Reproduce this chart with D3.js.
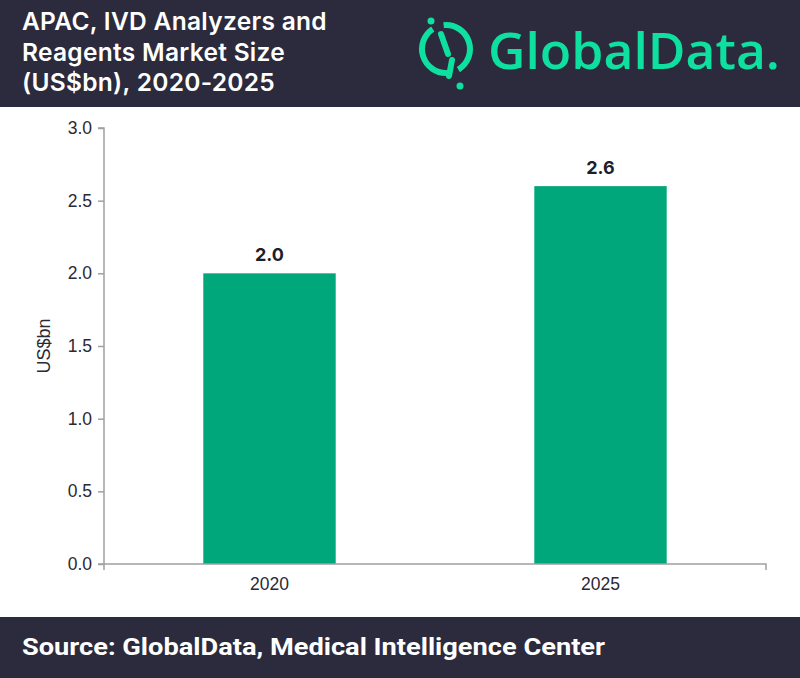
<!DOCTYPE html>
<html><head><meta charset="utf-8">
<script src="https://cdn.jsdelivr.net/npm/d3@7"></script>
<style>body{margin:0;background:#fff}svg{display:block}</style>
</head><body>
<script>
const categories = ["2020", "2025"];
const values = [2.0, 2.6];
const valueLabels = ["2.0", "2.6"];
const yTicks = [0, 0.5, 1.0, 1.5, 2.0, 2.5, 3.0];
const titleLines = ["APAC, IVD Analyzers and", "Reagents Market Size", "(US$bn), 2020-2025"];
const sourceText = "Source: GlobalData, Medical Intelligence Center";
const yAxisTitle = "US$bn";

const W = 800, H = 678;
const svg = d3.select("body").append("svg").attr("width", W).attr("height", H);
const dark = "#2c2a3d", green = "#00a77a", logoGreen = "#0ee0a0";

// header
svg.append("rect").attr("x",0).attr("y",0).attr("width",W).attr("height",107).attr("fill",dark);
svg.append("g").selectAll("text").data(titleLines).join("text")
  .attr("x",22).attr("y",(d,i)=>30+i*30.5)
  .attr("fill","#fff").attr("font-family","Inter, 'Noto Sans', sans-serif")
  .attr("font-weight",600).attr("font-size",24.5).attr("letter-spacing",0.3).text(d=>d);

// logo
const logo = svg.append("g");
const cx=446, cy=49, r=24;
const arc = d3.arc().innerRadius(r-3).outerRadius(r+3);
logo.append("path").attr("transform",`translate(${cx},${cy})`)
  .attr("d", arc({startAngle: -0.1, endAngle: 2.6})).attr("fill",logoGreen);
logo.append("path").attr("transform",`translate(${cx},${cy})`)
  .attr("d", arc({startAngle: 3.1, endAngle: 5.7})).attr("fill",logoGreen);
logo.append("line").attr("x1",441).attr("y1",34).attr("x2",448).attr("y2",54)
  .attr("stroke",logoGreen).attr("stroke-width",6).attr("stroke-linecap","round");
logo.append("line").attr("x1",452).attr("y1",60).attr("x2",449).attr("y2",76)
  .attr("stroke",logoGreen).attr("stroke-width",6).attr("stroke-linecap","round");
logo.append("circle").attr("cx",431).attr("cy",21).attr("r",3.5).attr("fill",logoGreen);
logo.append("circle").attr("cx",460).attr("cy",86).attr("r",3.5).attr("fill",logoGreen);
logo.append("text").attr("x",488).attr("y",69).attr("fill",logoGreen)
  .attr("font-family","'Open Sans', Inter, sans-serif").attr("font-weight",600)
  .attr("font-size",50).attr("textLength",292).attr("lengthAdjust","spacingAndGlyphs")
  .text("GlobalData.");

// chart
const x0 = 104, x1 = 766, yTop = 128, yBot = 564;
const x = d3.scaleBand().domain(categories).range([x0,x1]).paddingInner(0.6).paddingOuter(0.3);
const y = d3.scaleLinear().domain([0,3]).range([yBot,yTop]);

svg.append("g").selectAll("rect").data(values).join("rect")
  .attr("x",(d,i)=>x(categories[i])).attr("width",x.bandwidth())
  .attr("y",d=>y(d)).attr("height",d=>y(0)-y(d)).attr("fill",green);

svg.append("g").selectAll("text").data(values).join("text")
  .attr("x",(d,i)=>x(categories[i])+x.bandwidth()/2).attr("y",d=>y(d)-12)
  .attr("text-anchor","middle").attr("font-family","Inter, 'Noto Sans', sans-serif")
  .attr("font-weight",700).attr("font-size",18).attr("fill","#1e1d2b")
  .text((d,i)=>valueLabels[i]);

const yAxis = svg.append("g").attr("transform",`translate(${x0},0)`)
  .call(d3.axisLeft(y).tickValues(yTicks).tickFormat(d3.format(".1f")).tickSize(6).tickPadding(6));
yAxis.select(".domain").attr("stroke","#a0a0a0").attr("stroke-width",1.5).attr("d",`M-6,${yTop}H0V${yBot}H-6`);
yAxis.selectAll(".tick line").attr("stroke","#a0a0a0").attr("stroke-width",1.5);
yAxis.selectAll(".tick text").attr("font-family","'Liberation Sans', Arial, sans-serif")
  .attr("font-size",17.5).attr("fill","#2a2a35");

const xAxis = svg.append("g").attr("transform",`translate(0,${yBot})`)
  .call(d3.axisBottom(x).tickSize(0).tickPadding(14));
xAxis.select(".domain").attr("stroke","#a0a0a0").attr("stroke-width",1.5).attr("d",`M${x0},6V0H${x1}V6`);
xAxis.selectAll(".tick text").attr("font-family","'Liberation Sans', Arial, sans-serif")
  .attr("font-size",17.5).attr("fill","#2a2a35");

svg.append("text").attr("transform",`translate(50,${(yTop+yBot)/2}) rotate(-90)`)
  .attr("text-anchor","middle").attr("font-family","'Liberation Sans', Arial, sans-serif")
  .attr("font-size",18).attr("fill","#2a2a35").text(yAxisTitle);

// footer
svg.append("rect").attr("x",0).attr("y",617).attr("width",W).attr("height",H-617).attr("fill",dark);
svg.append("text").attr("x",22).attr("y",655).attr("fill","#fff")
  .attr("font-family","Roboto, 'Noto Sans', sans-serif").attr("font-weight",700)
  .attr("font-size",24).attr("textLength",583).attr("lengthAdjust","spacingAndGlyphs")
  .text(sourceText);
</script>
</body></html>
